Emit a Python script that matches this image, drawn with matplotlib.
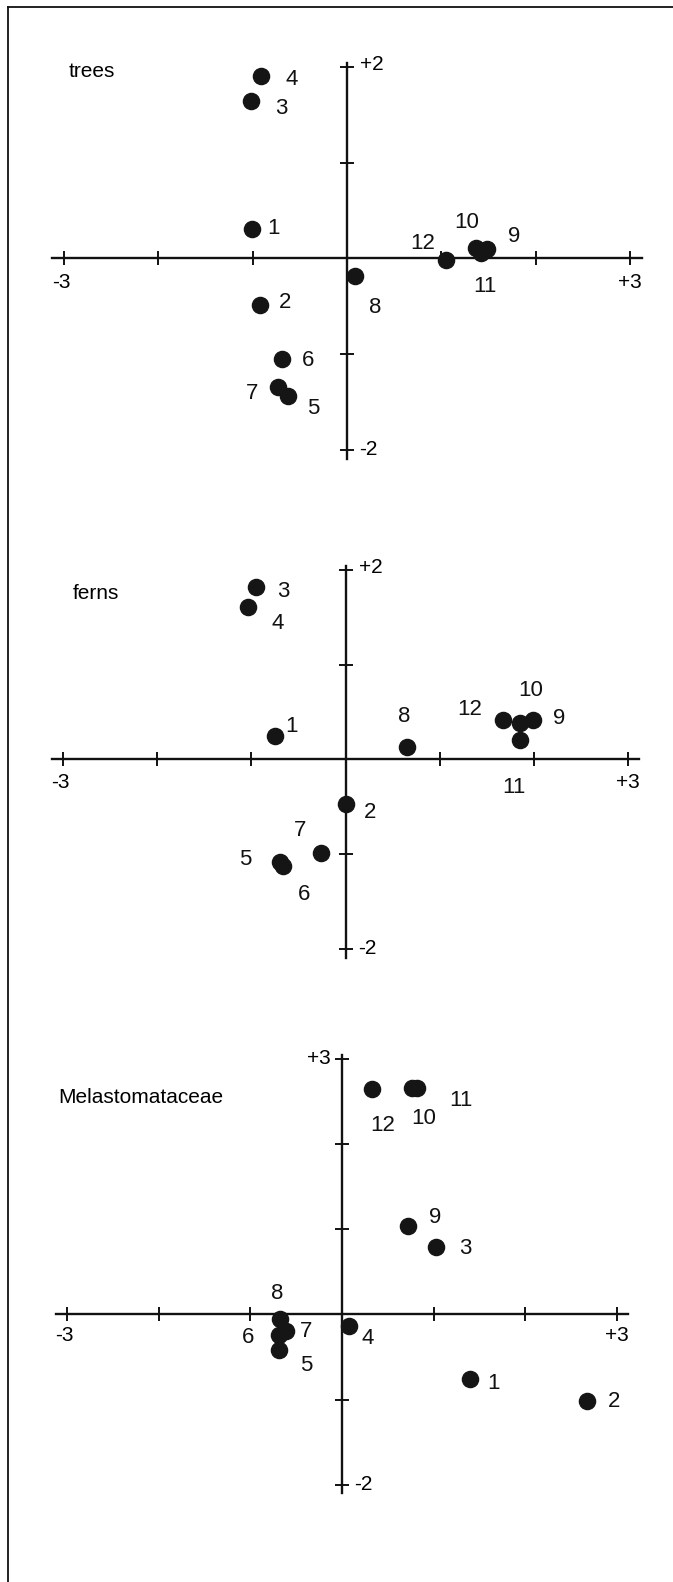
import matplotlib.pyplot as plt
from matplotlib.lines import Line2D

plt.rcParams['font.family'] = ['Liberation Sans', 'DejaVu Sans']

# point numbers
labels = [str(i) for i in range(1, 13)]

# trees ordination scores
trees_x = [-1.01, -0.92, -1.02, -0.91, -0.63, -0.69, -0.73, 0.09, 1.48, 1.37, 1.42, 1.05]
trees_y = [0.31, -0.49, 1.64, 1.91, -1.44, -1.05, -1.34, -0.18, 0.10, 0.11, 0.06, -0.02]

# ferns ordination scores
ferns_x = [-0.75, 0.0, -0.95, -1.03, -0.70, -0.66, -0.26, 0.65, 1.99, 1.85, 1.85, 1.67]
ferns_y = [0.25, -0.47, 1.82, 1.61, -1.08, -1.13, -0.99, 0.13, 0.42, 0.38, 0.20, 0.42]

# Melastomataceae ordination scores
melas_x = [1.40, 2.68, 1.03, 0.08, -0.69, -0.69, -0.61, -0.68, 0.72, 0.76, 0.82, 0.33]
melas_y = [-0.76, -1.02, 0.79, -0.14, -0.42, -0.24, -0.20, -0.05, 1.04, 2.66, 2.66, 2.65]

# label offsets (pixels, right / down) for each point
trees_off = [(22, 0), (25, -3), (31, 7), (31, 4), (26, 12), (26, 2), (-26, 7),
             (20, 32), (27, -12), (-10, -25), (4, 34), (-23, -17)]
ferns_off = [(17, -9), (25, 9), (27, 5), (29, 17), (-34, -2), (21, 28), (-21, -23),
             (-3, -30), (26, -1), (11, -33), (-6, 47), (-33, -10)]
melas_off = [(23, 4), (27, 0), (29, 2), (18, 12), (27, 15), (-31, 3), (20, 0),
             (-3, -25), (27, -8), (12, 31), (44, 13), (10, 37)]

W, H = 673, 1582
fig = plt.figure(figsize=(W / 100, H / 100), dpi=100)

# frame: top and left rules only
fig.add_artist(Line2D([8 / W, 1], [1 - 7 / H, 1 - 7 / H], color='#111', lw=1.3))
fig.add_artist(Line2D([8 / W, 8 / W], [0, 1 - 7 / H], color='#111', lw=1.3))

NUM = 16


def panel(x0, ux, y0, uy, xs, ys, offs, title, title_pos, ytop, ytop_left):
    xlim = (-3.5, 3.4)
    ylim = (-2.6, ytop + 0.8)
    left = (x0 + xlim[0] * ux) / W
    width = (xlim[1] - xlim[0]) * ux / W
    bottom = 1 - (y0 - ylim[0] * uy) / H
    height = (ylim[1] - ylim[0]) * uy / H
    ax = fig.add_axes([left, bottom, width, height])
    ax.set_xlim(xlim)
    ax.set_ylim(ylim)
    ax.patch.set_alpha(0)

    for s in ['top', 'right']:
        ax.spines[s].set_visible(False)
    ax.spines['left'].set_position(('data', 0))
    ax.spines['bottom'].set_position(('data', 0))
    ax.spines['bottom'].set_bounds(-3.12, 3.12)
    ax.spines['left'].set_bounds(-2.1, ytop + 0.04)
    for s in ['left', 'bottom']:
        ax.spines[s].set_linewidth(1.7)
        ax.spines[s].set_color('#111')
    ax.set_xticks([-3, -2, -1, 1, 2, 3])
    ax.set_yticks([v for v in range(-2, ytop + 1) if v != 0])
    ax.tick_params(direction='inout', length=10, width=1.4, color='#111',
                   labelbottom=False, labelleft=False)

    ax.scatter(xs, ys, s=135, color='#151515', zorder=3, clip_on=False)
    for lab, x, y, (dx, dy) in zip(labels, xs, ys, offs):
        ax.annotate(lab, (x, y), xytext=(dx, -dy), textcoords='offset pixels',
                    ha='center', va='center', fontsize=NUM, color='#111')

    ax.text(-3.03, -0.25, '-3', ha='center', va='center', fontsize=NUM - 1)
    ax.text(3.0, -0.25, '+3', ha='center', va='center', fontsize=NUM - 1)
    if ytop_left:
        ax.text(-0.12, ytop, '+%d' % ytop, ha='right', va='center', fontsize=NUM - 1)
    else:
        ax.text(0.14, ytop + 0.02, '+%d' % ytop, ha='left', va='center', fontsize=NUM - 1)
    ax.text(0.13, -2.0, '-2', ha='left', va='center', fontsize=NUM - 1)
    ax.text(title_pos[0], title_pos[1], title, ha='left', va='center', fontsize=15)
    return ax


panel(347, 94.4, 258.3, 95.7, trees_x, trees_y, trees_off, 'trees', (-2.95, 1.95), 2, False)
panel(345.5, 94.2, 759.3, 94.75, ferns_x, ferns_y, ferns_off, 'ferns', (-2.9, 1.75), 2, False)
panel(342, 91.6, 1314.3, 85.2, melas_x, melas_y, melas_off, 'Melastomataceae', (-3.1, 2.54), 3, True)

fig.savefig('out.png', dpi=100)
